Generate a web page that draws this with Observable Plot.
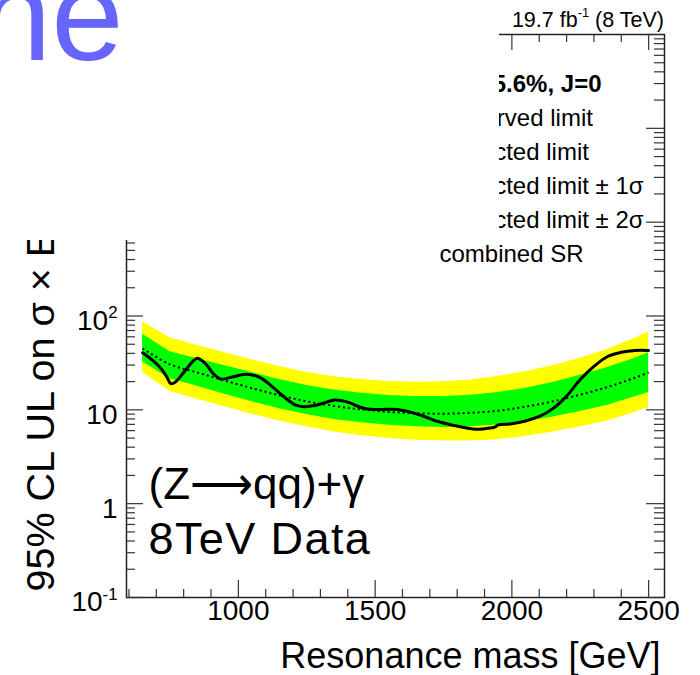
<!DOCTYPE html>
<html>
<head>
<meta charset="utf-8">
<script src="https://cdn.jsdelivr.net/npm/d3@7"></script>
<script src="https://cdn.jsdelivr.net/npm/@observablehq/plot@0.6"></script>
<style>
  html, body { margin: 0; padding: 0; background: white; }
  #chart svg { display: block; }
</style>
</head>
<body>
<div id="chart"></div>
<script>
// ---- Data ----
const masses     = [650, 750, 850, 950, 1050, 1150, 1250, 1350, 1450, 1550, 1650, 1750, 1850, 1950, 2050, 2150, 2250, 2350, 2450, 2500];
const expected   = [45, 30.5, 25, 20.5, 17, 14.3, 12.3, 11, 10.1, 9.5, 9.2, 9.1, 9.3, 9.8, 10.8, 12.3, 14.5, 17.5, 22, 25];
const greenLow   = [32.4, 21.5, 17.8, 14.7, 12.2, 10.3, 8.9, 7.9, 7.3, 6.85, 6.6, 6.5, 6.6, 6.9, 7.5, 8.4, 9.6, 11.2, 13.8, 15.3];
const greenHigh  = [64, 41.7, 35, 29.5, 25, 21, 18.2, 16.3, 15, 14.2, 13.9, 13.9, 14.3, 15.3, 17, 19.5, 23.3, 28.3, 35.5, 40.7];
const yellowLow  = [25, 15.7, 13, 10.8, 9.0, 7.6, 6.6, 5.8, 5.3, 4.95, 4.75, 4.65, 4.65, 4.8, 5.2, 5.8, 6.6, 7.6, 9.4, 10.6];
const yellowHigh = [87, 58.5, 48.5, 40.5, 34, 29, 25, 22.5, 21, 20, 19.7, 19.9, 20.8, 22.8, 25.5, 29.5, 35.5, 44, 58, 68];

const obsMass  = [650, 690, 720, 740, 753, 770, 800, 830, 850, 880, 910, 935, 980, 1030, 1080, 1130, 1170, 1210, 1240, 1280, 1320, 1350, 1380, 1410, 1440, 1470, 1520, 1580, 1620, 1680, 1730, 1790, 1830, 1870, 1920, 1940, 1950, 2000, 2050, 2100, 2150, 2200, 2250, 2300, 2350, 2400, 2450, 2500];
const obsLimit = [40.5, 33, 27, 22, 19, 19.8, 25, 32, 35.5, 31, 24, 21.3, 22.5, 24, 22, 17, 13.5, 11.2, 10.8, 11.1, 12, 12.7, 12.5, 11.8, 10.8, 10.2, 10.1, 10.1, 9.6, 8.5, 7.5, 6.8, 6.45, 6.2, 6.4, 6.6, 6.9, 7.1, 7.6, 8.5, 10.3, 14, 21, 29, 37, 41, 43, 43];

const xMajorTicks = [1000, 1500, 2000, 2500];
const xMajorLabels = ["1000", "1500", "2000", "2500"];
const xMinorTicks = [600, 700, 800, 900, 1100, 1200, 1300, 1400, 1600, 1700, 1800, 1900, 2100, 2200, 2300, 2400];
const yMajorTicks = [0.1, 1, 10, 100, 1000, 10000, 100000];
const yLabelTicks = [0.1, 1, 10, 100];
const yLabels = ["10^{-1}", "1", "10", "10^{2}"];
const yMinorTicks = [0.1, 1, 10, 100, 1000, 10000].flatMap(d => [2, 3, 4, 5, 6, 7, 8, 9].map(k => d * k));

const legendHeader = "\u0393/M = 5.6%, J=0";
const legendLines = ["Observed limit", "Expected limit", "Expected limit \u00b1 1\u03c3", "Expected limit \u00b1 2\u03c3", "combined SR"];
const legendOffsets = [91, 125, 159, 193, 227.7];

const bands = masses.map((m, i) => ({m, e: expected[i], gl: greenLow[i], gh: greenHigh[i], yl: yellowLow[i], yh: yellowHigh[i]}));
const obs = obsMass.map((m, i) => ({m, v: obsLimit[i]}));

// ---- Layout ----
const W = 700, H = 675;
const mL = 126, mR = 36, mT = 34, mB = 78;
const FW = W - mL - mR, FH = H - mT - mB;
const tickColor = "#333";
const FONT = "'Liberation Sans', Arial, Helvetica, sans-serif";

const legendMarks = legendLines.map((t, i) =>
  Plot.text([t], {text: d => d, frameAnchor: "top-left", dx: 313, dy: legendOffsets[i], textAnchor: "start", lineAnchor: "bottom", fontSize: 24, fill: "black"})
);

const plot = Plot.plot({
  width: W, height: H,
  marginLeft: mL, marginRight: mR, marginTop: mT, marginBottom: mB,
  x: {domain: [591, 2558], axis: null},
  y: {type: "log", domain: [0.1, 1e5], axis: null},
  style: {fontFamily: FONT, background: "white", color: "black", overflow: "hidden"},
  marks: [
    Plot.areaY(bands, {x: "m", y1: "yl", y2: "yh", fill: "#ffff00"}),
    Plot.areaY(bands, {x: "m", y1: "gl", y2: "gh", fill: "#00ff00"}),
    Plot.line(bands, {x: "m", y: "e", stroke: "black", strokeWidth: 2, strokeDasharray: "2,3", strokeLinecap: "butt", curve: "catmull-rom"}),
    Plot.line(obs, {x: "m", y: "v", stroke: "black", strokeWidth: 3, curve: "catmull-rom"}),
    Plot.frame({stroke: "#222", strokeWidth: 1.5}),
    // bottom ticks
    Plot.tickX(xMajorTicks, {x: d => d, insetTop: FH - 17, stroke: tickColor, strokeWidth: 1.2}),
    Plot.tickX(xMinorTicks, {x: d => d, insetTop: FH - 8, stroke: tickColor, strokeWidth: 1.2}),
    // top ticks
    Plot.tickX(xMajorTicks, {x: d => d, insetBottom: FH - 16, stroke: tickColor, strokeWidth: 1.2}),
    Plot.tickX(xMinorTicks, {x: d => d, insetBottom: FH - 8, stroke: tickColor, strokeWidth: 1.2}),
    // left ticks
    Plot.tickY(yMajorTicks, {y: d => d, insetRight: FW - 17, stroke: tickColor, strokeWidth: 1.2}),
    Plot.tickY(yMinorTicks, {y: d => d, insetRight: FW - 9, stroke: tickColor, strokeWidth: 1.2}),
    // right ticks
    Plot.tickY(yMajorTicks, {y: d => d, insetLeft: FW - 18, stroke: tickColor, strokeWidth: 1.2}),
    Plot.tickY(yMinorTicks, {y: d => d, insetLeft: FW - 10, stroke: tickColor, strokeWidth: 1.2}),
    // tick labels
    Plot.text(xMajorTicks, {x: d => d, text: (d, i) => xMajorLabels[i], frameAnchor: "bottom", dy: 22, fontSize: 28, fill: "black"}),
    Plot.text(yLabelTicks, {y: d => d, text: (d, i) => yLabels[i], frameAnchor: "left", dx: -9, dy: 5, textAnchor: "end", fontSize: 28, fill: "black"}),
    // axis titles
    Plot.text(["Resonance mass [GeV]"], {text: d => d, frameAnchor: "bottom-right", dx: -4, dy: 70, textAnchor: "end", lineAnchor: "bottom", fontSize: 36, fill: "black"}),
    Plot.text(["95% CL UL on \u03c3 \u00d7 E"], {text: d => d, frameAnchor: "bottom-left", dx: -73, dy: -6, rotate: -90, textAnchor: "start", lineAnchor: "bottom", fontSize: 39.5, fill: "black"}),
    // annotations
    Plot.text(["19.7 fb^{-1} (8 TeV)"], {text: d => d, frameAnchor: "top-right", dx: -0.5, dy: -8, textAnchor: "end", lineAnchor: "bottom", fontSize: 21.5, fill: "black"}),
    Plot.text(["(Z\u27f6qq)+\u03b3"], {text: d => d, frameAnchor: "bottom-left", dx: 22, dy: -99, textAnchor: "start", lineAnchor: "bottom", fontSize: 44, fill: "black"}),
    Plot.text(["8TeV Data"], {text: d => d, frameAnchor: "bottom-left", dx: 22, dy: -44, textAnchor: "start", lineAnchor: "bottom", fontSize: 45, fill: "black"}),
    // legend
    Plot.text([legendHeader], {text: d => d, frameAnchor: "top-left", dx: 475, dy: 57.7, textAnchor: "end", lineAnchor: "bottom", fontSize: 24, fontWeight: "bold", fill: "black"}),
    ...legendMarks
  ]
});

document.getElementById("chart").appendChild(plot);
const svg = d3.select(plot);

// Superscripts: rewrite "a^{b}c" into tspans
svg.selectAll("text").each(function() {
  const t = this.textContent;
  if (t === "8TeV Data") d3.select(this).attr("letter-spacing", 1.4);
  if (!t.includes("^{")) return;
  const fs = parseFloat(this.getAttribute("font-size") || d3.select(this.parentNode).attr("font-size")) || 20;
  const parts = t.split(/(\^\{[^}]*\})/).filter(s => s.length);
  while (this.firstChild) this.removeChild(this.firstChild);
  let raised = false;
  const sup = fs * 0.6;
  for (const p of parts) {
    const ts = d3.select(this).append("tspan");
    if (p.startsWith("^{")) {
      ts.text(p.slice(2, -1)).attr("font-size", sup).attr("dy", -fs * 0.42);
      raised = true;
    } else {
      ts.text(p);
      if (raised) { ts.attr("dy", fs * 0.42); raised = false; }
    }
  }
});

// Overlapping white panel from the reference (covers the upper-left of the plot)
svg.append("rect").attr("x", 0).attr("y", 0).attr("width", 499).attr("height", 240).attr("fill", "white");
svg.append("text")
  .attr("x", -21).attr("y", 60)
  .attr("text-anchor", "start")
  .attr("font-family", FONT)
  .attr("font-size", 130).attr("fill", "#6666ff")
  .text("ne");
</script>
</body>
</html>
